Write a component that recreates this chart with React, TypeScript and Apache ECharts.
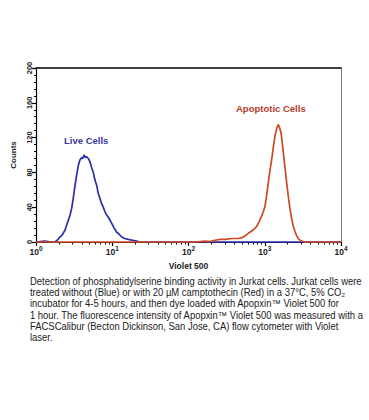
import React, { useEffect, useRef } from "react";
import * as echarts from "echarts";

// Live cells (blue) histogram: fluorescence intensity vs counts
const blueX = [1, 1.3, 1.6, 1.77, 1.9, 2.06, 2.2, 2.4, 2.65, 2.8, 2.94, 3.1, 3.25, 3.4, 3.59, 3.75, 3.97, 4.1, 4.26, 4.45, 4.62, 4.85, 5.11, 5.35, 5.64, 5.9, 6.25, 6.55, 6.91, 7.25, 7.63, 8.0, 8.46, 9.1, 9.84, 10.6, 11.4, 12.3, 13.3, 14.6, 16.2, 18.4, 20.9, 23.1, 100, 1000, 10000];
const blueY = [0, 1, 0, 0, 2, 5.7, 8, 13.5, 25, 31, 39, 52, 65, 76, 88, 94, 97, 96, 100, 97, 98, 96, 92, 86, 80, 72, 65, 56, 50, 44, 40, 35, 31, 27, 21.5, 16, 11.5, 9, 5.7, 4, 3, 2, 1, 0, 0, 0, 0];

// Apoptotic cells (red) histogram
const redX = [1, 10, 100, 122, 165, 190, 223, 260, 301, 370, 450, 500, 551, 610, 674, 730, 784, 850, 912, 960, 1007, 1060, 1113, 1170, 1234, 1300, 1363, 1430, 1506, 1570, 1634, 1690, 1751, 1840, 1940, 2040, 2143, 2250, 2367, 2490, 2623, 2800, 3053, 3373, 10000];
const redY = [0, 0, 0, 0, 1, 0.5, 2, 3, 3, 4, 4, 5, 7, 10, 12.6, 15, 18, 24, 30, 35, 41, 54, 68, 82, 95, 110, 122, 130, 135, 131, 126, 115, 103, 86, 68, 52, 38, 27, 18, 12, 7, 3, 1, 0, 0];

const majorTicks = [1, 10, 100, 1000, 10000];
const minorTicks = [2, 3, 4, 5, 6, 7, 8, 9, 20, 30, 40, 50, 60, 70, 80, 90, 200, 300, 400, 500, 600, 700, 800, 900, 2000, 3000, 4000, 5000, 6000, 7000, 8000, 9000];

const captionLines = [
  "Detection of phosphatidylserine binding activity in Jurkat cells. Jurkat cells were",
  "treated without (Blue) or with 20 µM camptothecin (Red) in a 37°C, 5% CO\u2082",
  "incubator for 4-5 hours, and then dye loaded with Apopxin\u2122 Violet 500 for",
  "1 hour. The fluorescence intensity of Apopxin\u2122 Violet 500 was measured with a",
  "FACSCalibur (Becton Dickinson, San Jose, CA) flow cytometer with Violet",
  "laser.",
];

const BLUE = "#2e2eaa";
const RED = "#cc4a26";
const FONT = "Arial, 'Liberation Sans', sans-serif";

export default function App() {
  const ref = useRef<HTMLDivElement>(null);
  useEffect(() => {
    if (!ref.current) return;
    const chart = echarts.init(ref.current, null, { renderer: "svg" });
    const pairs = (xs: number[], ys: number[]) => xs.map((x, i) => [x, ys[i]]);
    const gridLeft = 36, gridTop = 68, gridRight = 28, gridBottom = 178;
    chart.setOption({
      animation: false,
      backgroundColor: "#ffffff",
      grid: { left: gridLeft, right: gridRight, top: gridTop, bottom: gridBottom, containLabel: false },
      xAxis: [
        {
          type: "log", logBase: 10, min: 1, max: 10000,
          axisLine: { show: true, lineStyle: { color: "#000", width: 1.2 } },
          axisTick: { show: true, customValues: majorTicks, length: 4, lineStyle: { color: "#000", width: 1.2 } },
          axisLabel: {
            show: true, customValues: majorTicks, margin: 3,
            formatter: (v: number) => `{b|10}{s|${Math.round(Math.log10(v))}}`,
            rich: {
              b: { fontSize: 8.5, fontFamily: FONT, color: "#222", fontWeight: "bold", verticalAlign: "bottom", lineHeight: 11 },
              s: { fontSize: 6.5, fontFamily: FONT, color: "#222", fontWeight: "bold", verticalAlign: "top", lineHeight: 11, padding: [0, 0, 6, 0] },
            },
          },
          splitLine: { show: false },
          name: "Violet 500", nameLocation: "middle", nameGap: 19,
          nameTextStyle: { fontSize: 8.5, fontWeight: "bold", fontFamily: FONT, color: "#222" },
        },
        {
          type: "log", logBase: 10, min: 1, max: 10000, position: "bottom",
          axisLine: { show: false },
          axisTick: { show: true, customValues: minorTicks, length: 2.5, lineStyle: { color: "#000", width: 1 } },
          axisLabel: { show: false },
          splitLine: { show: false },
        },
        {
          type: "log", logBase: 10, min: 1, max: 10000, position: "top",
          axisLine: { show: true, lineStyle: { color: "#000", width: 1.5 } },
          axisTick: { show: false }, axisLabel: { show: false }, splitLine: { show: false },
        },
      ],
      yAxis: [
        {
          type: "value", min: 0, max: 200, interval: 40,
          axisLine: { show: true, lineStyle: { color: "#000", width: 1.2 } },
          axisTick: { show: true, length: 4, lineStyle: { color: "#000", width: 1.2 } },
          minorTick: { show: true, splitNumber: 5, length: 2, lineStyle: { color: "#000", width: 1 } },
          axisLabel: { rotate: 90, margin: 3, fontSize: 7.5, fontWeight: "bold", fontFamily: FONT, color: "#222" },
          splitLine: { show: false },
          name: "Counts", nameLocation: "middle", nameGap: 16, nameRotate: 90,
          nameTextStyle: { fontSize: 8, fontWeight: "bold", fontFamily: FONT, color: "#222" },
        },
        {
          type: "value", min: 0, max: 200, position: "right",
          axisLine: { show: true, lineStyle: { color: "#777", width: 1 } },
          axisTick: { show: false }, axisLabel: { show: false }, splitLine: { show: false },
        },
      ],
      series: [
        {
          type: "line", name: "Live Cells", data: pairs(blueX, blueY), xAxisIndex: 0, yAxisIndex: 0,
          showSymbol: false, clip: false, z: 3,
          lineStyle: { color: BLUE, width: 1.7 },
        },
        {
          type: "line", name: "Apoptotic Cells", data: pairs(redX, redY), xAxisIndex: 0, yAxisIndex: 0,
          showSymbol: false, clip: false, z: 4,
          lineStyle: { color: RED, width: 1.7 },
        },
      ],
      graphic: [
        {
          type: "text", left: 64, top: 135,
          style: { text: "Live Cells", fontSize: 9.5, fontWeight: "bold", fontFamily: FONT, fill: "#3a3aa6" },
        },
        {
          type: "text", left: 236, top: 103,
          style: { text: "Apoptotic Cells", fontSize: 9.5, fontWeight: "bold", fontFamily: FONT, fill: "#b23c2c" },
        },
        {
          type: "group", x: 30, y: 276, scaleX: 0.945,
          children: captionLines.map((t, i) => ({
            type: "text", x: 0, y: i * 11.3,
            style: { text: t, fontSize: 10, fontFamily: FONT, fill: "#1a1a1a" },
          })),
        },
      ],
    });
    return () => chart.dispose();
  }, []);
  return (
    <div
      ref={ref}
      style={{ position: "fixed", left: 0, top: 0, width: 369, height: 420, background: "#fff" }}
    />
  );
}
